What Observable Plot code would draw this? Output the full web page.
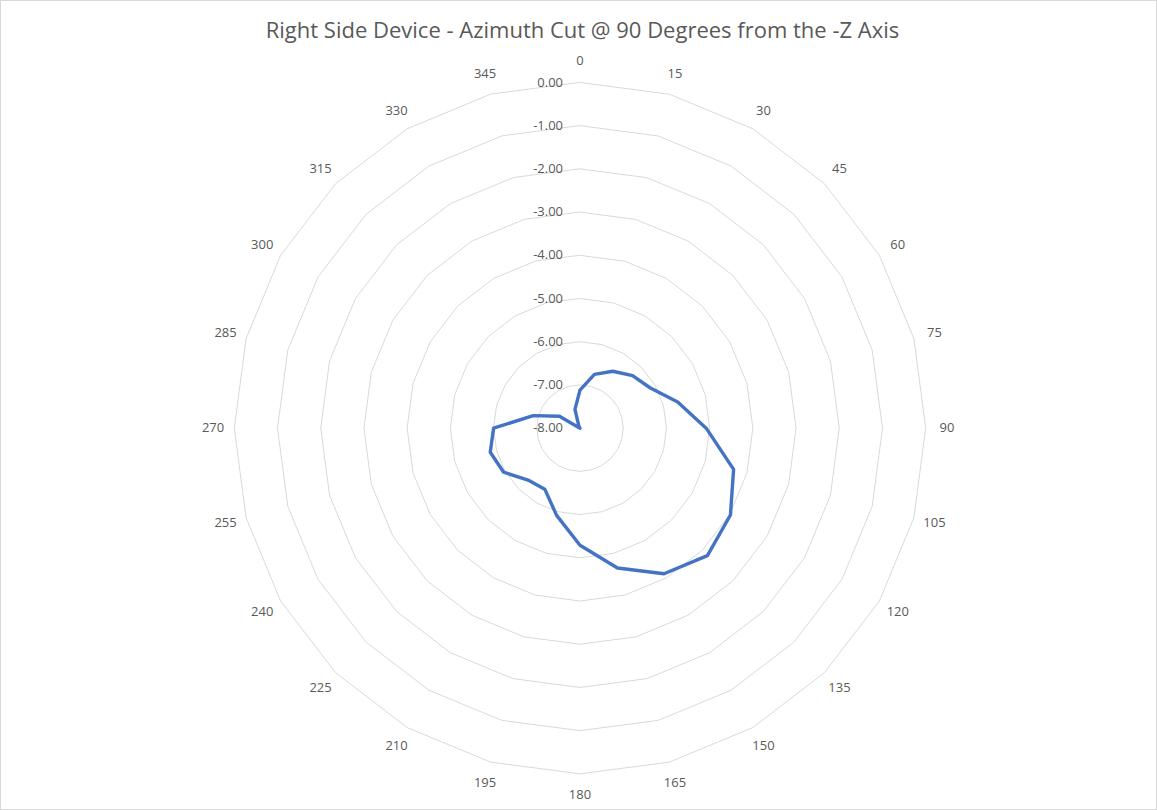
<!DOCTYPE html>
<html>
<head>
<meta charset="utf-8">
<script src="https://cdn.jsdelivr.net/npm/d3@7"></script>
<script src="https://cdn.jsdelivr.net/npm/@observablehq/plot@0.6"></script>
<style>
  html, body { margin: 0; padding: 0; background: #fff; }
  #chart {
    position: relative;
    width: 1157px;
    height: 810px;
    box-sizing: border-box;
    border: 1px solid #d9d9d9;
    background: #fff;
    overflow: hidden;
  }
  #title {
    position: absolute;
    top: 14px;
    left: 3px;
    width: 1157px;
    text-align: center;
    font-family: "Open Sans", sans-serif;
    font-size: 22px;
    line-height: 28px;
    color: #595959;
  }
  #plot { position: absolute; top: 49px; left: -1px; }
</style>
</head>
<body>
<div id="chart">
  <div id="title">Right Side Device - Azimuth Cut @ 90 Degrees from the -Z Axis</div>
  <div id="plot"></div>
</div>
<script>
// Azimuth angles (degrees, clockwise from the top)
const angles = [0, 15, 30, 45, 60, 75, 90, 105, 120, 135, 150, 165,
                180, 195, 210, 225, 240, 255, 270, 285, 300, 315, 330, 345];

// Measured gain at each azimuth
const gain = [-7.12, -6.71, -6.48, -6.28, -6.13, -5.66, -5.08, -4.32, -3.98, -3.83, -4.11, -4.65,
              -5.29, -5.91, -6.37, -6.30, -5.96, -5.85, -6.00, -6.88, -7.45, -8.00, -7.95, -7.55];

// Radial axis: gridline values and their labels
const radialMin = -8;
const radialMax = 0;
const ringValues = [0, -1, -2, -3, -4, -5, -6, -7, -8];
const ringLabels = ["0.00", "-1.00", "-2.00", "-3.00", "-4.00", "-5.00", "-6.00", "-7.00", "-8.00"];

// Polar placement on a sphere viewed from the pole:
// longitude carries the azimuth, colatitude carries the radial value.
const lon = (a) => 180 - a;
const lat = (v) => 90 - (v - radialMin);
const span = radialMax - radialMin;

const series = angles.map((a, i) => ({angle: a, value: gain[i]}));

const rings = ringValues
  .filter((v) => v > radialMin)
  .flatMap((v) => angles.map((a) => ({ring: v, angle: a})));

const ticks = ringValues.map((v, i) => ({value: v, label: ringLabels[i]}));

const angleLabels = angles.map((a) => ({angle: a, label: String(a)}));

const chart = Plot.plot({
  width: 1157,
  height: 760,
  marginTop: 32,
  marginBottom: 36,
  marginLeft: 103,
  marginRight: 100,
  projection: {
    type: "azimuthal-equidistant",
    rotate: [0, -90],
    domain: d3.geoCircle().center([0, 90]).radius(span)(),
    clip: false
  },
  style: {
    fontFamily: "'Open Sans', sans-serif",
    fontSize: "13px",
    color: "#595959",
    background: "transparent"
  },
  marks: [
    // concentric 24-sided gridlines
    Plot.line(rings, {
      x: (d) => lon(d.angle),
      y: (d) => lat(d.ring),
      z: "ring",
      curve: "linear-closed",
      stroke: "#d9d9d9",
      strokeWidth: 1
    }),
    // radial value labels along the 0° spoke
    Plot.text(ticks, {
      x: () => lon(0),
      y: (d) => lat(d.value),
      text: "label",
      textAnchor: "end",
      dx: -17,
      fill: "#595959"
    }),
    // azimuth labels around the outside
    Plot.text(angleLabels, {
      x: (d) => lon(d.angle),
      y: () => lat(radialMax) - span * 0.0615,
      text: "label",
      textAnchor: "middle",
      fill: "#595959"
    }),
    // the measured pattern
    Plot.line(series, {
      x: (d) => lon(d.angle),
      y: (d) => lat(d.value),
      curve: "linear-closed",
      stroke: "#4472c4",
      strokeWidth: 3.4,
      strokeLinejoin: "round"
    })
  ]
});

document.getElementById("plot").append(chart);
</script>
</body>
</html>
